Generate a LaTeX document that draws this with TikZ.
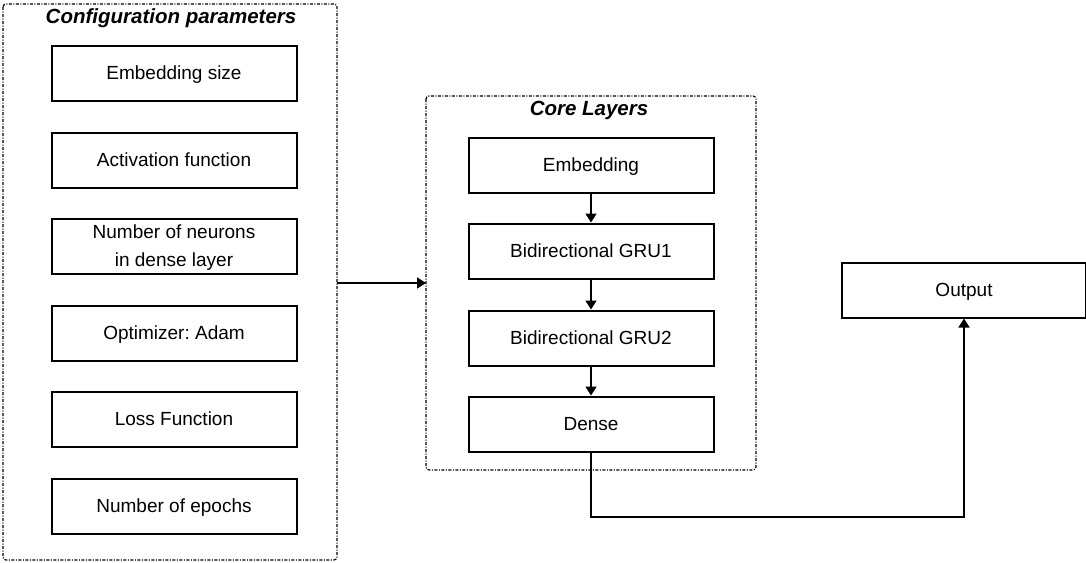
\documentclass[tikz,border=0pt]{standalone}
\usepackage{fontspec}
\setmainfont{Liberation Sans}
\frenchspacing
\usetikzlibrary{arrows.meta}
\begin{document}
\begin{tikzpicture}[x=1pt, y=-1pt,
    layer/.style={draw, line width=2pt, minimum width=245pt, minimum height=55pt, inner sep=0pt,
      align=center, text depth=-3.5pt, font=\fontsize{19}{28}\selectfont},
    group/.style={draw, line width=1.2pt, dash pattern=on 3pt off 1.5pt on 1pt off 1.5pt, rounded corners=3pt},
    grouptitle/.style={font=\fontsize{20.5}{24}\selectfont\bfseries\itshape},
    flow/.style={line width=1.7pt, -{Triangle[length=9pt, width=11pt]}}]
    \useasboundingbox (0, 0) rectangle (1086, 562);

    % configuration parameters
    \draw [group] (3, 4) rectangle (337, 560);
    \node [grouptitle] (conftitle) at (171, 18) {Configuration parameters};
    \node [layer] (embsize) at (174, 73) {Embedding size};
    \node [layer] (activ) at (174, 160) {Activation function};
    \node [layer, text depth=-0.5pt] (neurons) at (174, 246) {Number of neurons\\in dense layer};
    \node [layer] (optim) at (174, 333) {Optimizer: Adam};
    \node [layer] (loss) at (174, 419) {Loss Function};
    \node [layer] (epochs) at (174, 506) {Number of epochs};
    \coordinate (confout) at (337, 283);

    % core layers
    \draw [group] (426, 96) rectangle (756, 470);
    \node [grouptitle] (coretitle) at (589, 110) {Core Layers};
    \node [layer] (emb) at (591, 165) {Embedding};
    \node [layer] (gru1) at (591, 251) {Bidirectional GRU1};
    \node [layer] (gru2) at (591, 338) {Bidirectional GRU2};
    \node [layer] (dense) at (591, 424) {Dense};
    \coordinate (corein) at (426, 283);

    \node [layer, minimum width=244pt] (output) at (964, 290) {Output};

    \draw [flow] (confout) -- (corein);
    \draw [flow] (emb) -- (gru1);
    \draw [flow] (gru1) -- (gru2);
    \draw [flow] (gru2) -- (dense);
    \draw [flow] (dense.south) -- (591, 517) -| (output.south);
\end{tikzpicture}
\end{document}
